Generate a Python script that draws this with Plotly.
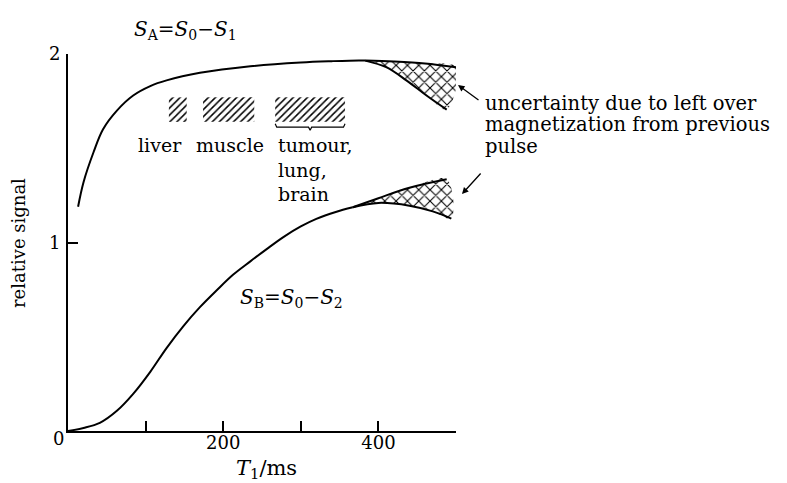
import plotly.graph_objects as go

# ---- data ----
SA_x = [13, 20, 33, 45, 63, 84, 106, 127, 170, 235, 300, 340, 375, 383]
SA_y = [1.19, 1.32, 1.48, 1.60, 1.70, 1.78, 1.83, 1.86, 1.90, 1.935, 1.955, 1.962, 1.966, 1.965]

SA_band_top_x = [383, 420, 460, 500]
SA_band_top_y = [1.965, 1.96, 1.95, 1.93]
SA_band_bot_x = [383, 410, 436, 462, 488]
SA_band_bot_y = [1.965, 1.93, 1.86, 1.78, 1.705]

SB_x = [0, 20, 41, 63, 84, 106, 127, 149, 170, 192, 213, 235, 256, 278, 300, 320, 345, 367]
SB_y = [0, 0.016, 0.043, 0.107, 0.197, 0.314, 0.44, 0.558, 0.657, 0.748, 0.83, 0.90, 0.965,
        1.03, 1.085, 1.125, 1.162, 1.187]

SB_band_top_x = [367, 400, 440, 488]
SB_band_top_y = [1.187, 1.235, 1.29, 1.335]
SB_band_bot_x = [367, 400, 440, 470, 494]
SB_band_bot_y = [1.187, 1.21, 1.195, 1.165, 1.127]

tissues = ["liver", "muscle", "tumour"]
tissue_T1_lo = [130, 174, 267]
tissue_T1_hi = [153, 240, 357]
tissue_y_lo = 1.64
tissue_y_hi = 1.77
tissue_labels = ["liver", "muscle", "tumour,<br>lung,<br>brain"]
tissue_label_x = [88, 163, 268]

note_lines = ["uncertainty due to left over", "magnetization from previous", "pulse"]

x_tickvals = [0, 100, 200, 300, 400, 500]
x_ticktext = ["", "", "200", "", "400", ""]
y_tickvals = [0, 1, 2]
y_ticktext = ["", "1", "2"]

FONT = "DejaVu Serif"
# plot-area pixel geometry (page has an 8px body margin)
W, H = 779, 475
ML, MR, MT, MB = 60, 331, 46, 52
PW = W - ML - MR
PH = H - MT - MB
OFF = 8

def px(xp):   # page pixel x -> paper x
    return (xp - OFF - ML) / PW

def py(yp):   # page pixel y -> paper y
    return (H - MB - (yp - OFF)) / PH

fig = go.Figure()

def band(tx, ty, bx, by):
    xs = list(tx) + list(reversed(bx))
    ys = list(ty) + list(reversed(by))
    return xs, ys

# cross-hatched uncertainty bands
for tx, ty, bx, by in [(SA_band_top_x, SA_band_top_y, SA_band_bot_x, SA_band_bot_y),
                       (SB_band_top_x, SB_band_top_y, SB_band_bot_x, SB_band_bot_y)]:
    xs, ys = band(tx, ty, bx, by)
    fig.add_trace(go.Scatter(x=xs, y=ys, mode="lines", fill="toself",
                             line=dict(width=0, color="black", shape="spline"),
                             fillcolor="white",
                             fillpattern=dict(shape="x", fgcolor="black", bgcolor="white",
                                              fgopacity=1, size=8, solidity=0.25),
                             hoverinfo="skip", showlegend=False))
    for lx, ly in [(tx, ty), (bx, by)]:
        fig.add_trace(go.Scatter(x=lx, y=ly, mode="lines", line=dict(color="black", width=2,
                                 shape="spline"), hoverinfo="skip", showlegend=False))

# main curves
fig.add_trace(go.Scatter(x=SA_x, y=SA_y, mode="lines",
                         line=dict(color="black", width=2, shape="spline"), showlegend=False))
fig.add_trace(go.Scatter(x=SB_x, y=SB_y, mode="lines",
                         line=dict(color="black", width=2, shape="spline"), showlegend=False))

# tissue T1 ranges (hatched)
for lo, hi in zip(tissue_T1_lo, tissue_T1_hi):
    fig.add_trace(go.Scatter(x=[lo, hi, hi, lo, lo],
                             y=[tissue_y_lo, tissue_y_lo, tissue_y_hi, tissue_y_hi, tissue_y_lo],
                             mode="lines", fill="toself", line=dict(width=0, color="white"),
                             fillcolor="white",
                             fillpattern=dict(shape="/", fgcolor="black", bgcolor="white",
                                              fgopacity=1, size=5, solidity=0.3),
                             hoverinfo="skip", showlegend=False))

# brace under tumour range
lo, hi = tissue_T1_lo[2], tissue_T1_hi[2]
mid = (lo + hi) / 2
fig.add_trace(go.Scatter(x=[lo, lo + 2, mid - 2, mid, mid + 2, hi - 2, hi],
                         y=[1.63, 1.612, 1.612, 1.595, 1.612, 1.612, 1.63],
                         mode="lines", line=dict(color="black", width=1.2),
                         hoverinfo="skip", showlegend=False))

ann = []
for lab, lx in zip(tissue_labels, tissue_label_x):
    ann.append(dict(x=lx, y=1.585, xref="x", yref="y", text=lab, showarrow=False,
                    xanchor="left", yanchor="top", align="left",
                    font=dict(family=FONT, size=19, color="black")))

for i, line in enumerate(note_lines):
    ann.append(dict(x=px(483), y=py(104 + 21 * i), xref="paper", yref="paper",
                    showarrow=False, xanchor="left", yanchor="middle", align="left",
                    text=line, font=dict(family=FONT, size=19.5, color="black")))

ann += [
    dict(x=px(185), y=py(30), xref="paper", yref="paper", showarrow=False,
         xanchor="center", yanchor="middle",
         text="<i>S</i><sub>A</sub>=<i>S</i><sub>0</sub>−<i>S</i><sub>1</sub>",
         font=dict(family=FONT, size=20, color="black")),
    dict(x=px(291), y=py(298), xref="paper", yref="paper", showarrow=False,
         xanchor="center", yanchor="middle",
         text="<i>S</i><sub>B</sub>=<i>S</i><sub>0</sub>−<i>S</i><sub>2</sub>",
         font=dict(family=FONT, size=20, color="black")),
    dict(x=px(458), y=py(85), xref="paper", yref="paper", ax=22, ay=16, showarrow=True,
         arrowhead=2, arrowsize=1, arrowwidth=1.3, arrowcolor="black", text=""),
    dict(x=px(462), y=py(194), xref="paper", yref="paper", ax=20, ay=-22, showarrow=True,
         arrowhead=2, arrowsize=1, arrowwidth=1.3, arrowcolor="black", text=""),
    dict(x=px(18), y=py(243), xref="paper", yref="paper", showarrow=False,
         xanchor="center", yanchor="middle",
         text="relative signal", textangle=-90,
         font=dict(family=FONT, size=18, color="black")),
    dict(x=px(266), y=py(469), xref="paper", yref="paper", showarrow=False,
         xanchor="center", yanchor="middle",
         text="<i>T</i><sub>1</sub>/ms", font=dict(family=FONT, size=21, color="black")),
    dict(x=px(58), y=py(438), xref="paper", yref="paper", showarrow=False,
         xanchor="center", yanchor="middle",
         text="0", font=dict(family=FONT, size=18, color="black")),
]

fig.update_layout(
    width=W, height=H,
    margin=dict(l=ML, r=MR, t=MT, b=MB),
    paper_bgcolor="white", plot_bgcolor="white",
    annotations=ann,
    xaxis=dict(range=[0, 500], tickvals=x_tickvals, ticktext=x_ticktext,
               ticks="inside", ticklen=10, tickwidth=1.5, tickcolor="black",
               showline=True, linecolor="black", linewidth=2, showgrid=False,
               zeroline=False, ticklabelstandoff=-6,
               tickfont=dict(family=FONT, size=18, color="black")),
    yaxis=dict(range=[0, 2], tickvals=y_tickvals, ticktext=y_ticktext,
               ticks="inside", ticklen=10, tickwidth=1.5, tickcolor="black",
               showline=True, linecolor="black", linewidth=2, showgrid=False,
               zeroline=False, ticklabelstandoff=2,
               tickfont=dict(family=FONT, size=18, color="black")),
)

fig.write_html("out.html")
